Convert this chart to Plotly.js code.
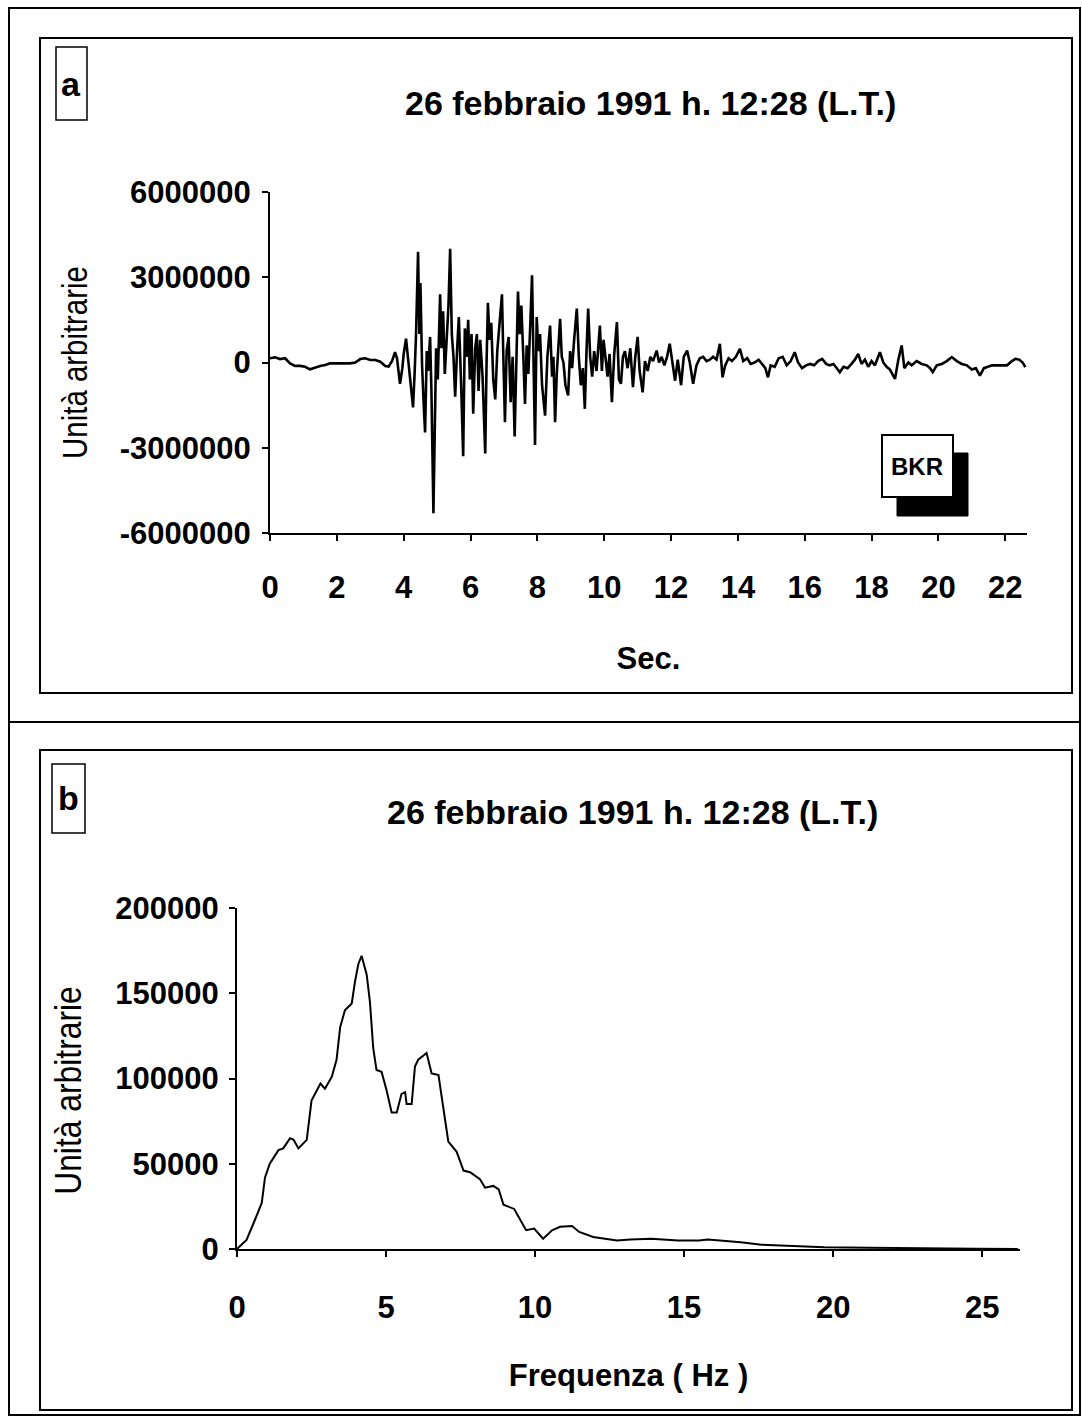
<!DOCTYPE html>
<html>
<head>
<meta charset="utf-8">
<script src="https://cdn.plot.ly/plotly-3.0.1.min.js"></script>
<style>
html,body{margin:0;padding:0;background:#fff;}
#chart{width:1082px;height:1417px;}
</style>
</head>
<body>
<div id="chart"></div>
<script>
// ---------------- DATA ----------------
const titleText = "26 febbraio 1991 h. 12:28 (L.T.)";
const yTitleText = "Unità arbitrarie";
const xTitleA = "Sec.";
const xTitleB = "Frequenza ( Hz )";

// Panel a: seismogram (time in s, amplitude in units of 1e5)
const AMP_UNIT = 1e5;
const waveT = [
0.00,0.15,0.30,0.45,0.60,0.75,0.90,1.05,1.20,1.35,1.50,1.65,1.80,1.95,2.10,2.25,2.40,2.55,2.70,2.85,
3.00,3.15,3.30,3.45,3.55,3.65,3.74,3.80,3.89,3.96,4.00,4.07,4.13,4.20,4.28,4.33,4.37,4.43,4.47,4.50,
4.55,4.60,4.64,4.69,4.73,4.79,4.83,4.89,4.93,4.97,5.02,5.09,5.13,5.18,5.23,5.28,5.34,5.39,5.44,5.49,
5.54,5.60,5.65,5.72,5.78,5.83,5.88,5.93,5.98,6.03,6.08,6.14,6.19,6.24,6.29,6.36,6.44,6.48,6.52,6.57,
6.62,6.68,6.74,6.80,6.86,6.94,6.98,7.03,7.08,7.14,7.20,7.26,7.32,7.37,7.42,7.47,7.52,7.58,7.63,7.68,
7.73,7.79,7.84,7.88,7.93,7.98,8.03,8.08,8.14,8.23,8.30,8.38,8.44,8.48,8.53,8.58,8.63,8.68,8.73,8.78,
8.84,8.92,8.98,9.04,9.10,9.18,9.24,9.30,9.36,9.42,9.47,9.52,9.58,9.64,9.70,9.77,9.87,9.93,9.98,10.04,
10.10,10.16,10.23,10.30,10.38,10.44,10.50,10.56,10.62,10.70,10.78,10.86,10.93,11.00,11.06,11.15,11.22,11.30,11.38,11.46,
11.57,11.64,11.72,11.80,11.88,11.96,12.04,12.12,12.20,12.30,12.38,12.48,12.56,12.66,12.76,12.86,12.96,13.06,13.16,13.26,
13.36,13.46,13.54,13.62,13.72,13.82,13.94,14.06,14.16,14.28,14.38,14.50,14.62,14.74,14.82,14.90,14.98,15.10,15.22,15.34,
15.46,15.58,15.70,15.80,15.92,16.04,16.16,16.28,16.40,16.52,16.64,16.74,16.86,16.96,17.05,17.16,17.28,17.40,17.50,17.60,
17.70,17.80,17.90,18.00,18.10,18.25,18.35,18.45,18.55,18.70,18.80,18.90,18.98,19.10,19.20,19.35,19.50,19.65,19.75,19.83,
19.95,20.10,20.25,20.40,20.55,20.70,20.85,21.00,21.12,21.24,21.36,21.48,21.60,21.75,21.90,22.05,22.20,22.30,22.42,22.52,
22.60];
const waveV = [
1.5,1.8,1.2,1.5,-0.3,-1.2,-1.2,-1.5,-2.4,-1.8,-1.2,-0.9,-0.3,-0.3,-0.3,-0.3,-0.3,0.0,1.2,1.5,
0.9,0.9,0.3,-1.2,-1.4,0.5,3.6,1.5,-7.5,-2.0,3.0,8.4,1.0,-6.0,-15.8,-3.0,10.0,39.0,10.0,28.0,
-1.0,-15.0,-24.6,4.0,-3.0,9.0,-10.0,-53.0,-28.0,5.0,-6.0,24.0,5.0,18.0,-4.0,8.0,20.0,40.0,10.0,2.0,
-12.0,5.0,16.0,-8.0,-33.0,12.0,2.0,15.0,-6.0,10.0,-18.0,5.0,10.0,-10.0,8.0,-5.0,-32.0,0.0,21.0,8.0,
14.0,-6.0,-13.0,4.0,12.0,24.0,3.0,-21.0,4.0,9.0,-14.0,2.0,-26.0,5.0,25.0,10.0,20.0,2.0,-14.6,6.0,
-4.0,14.0,30.7,4.0,-29.0,16.0,4.0,10.0,-8.0,-18.7,2.0,13.0,-5.0,2.0,-21.0,-4.0,6.0,15.4,2.0,0.0,
-8.0,-11.6,4.0,-2.0,8.0,19.0,2.0,-8.0,-2.0,-16.3,4.0,19.0,2.0,-5.0,4.0,-3.0,13.0,-3.0,8.0,2.0,
-5.0,3.0,-14.0,3.0,14.2,-6.0,-7.5,2.0,4.0,-2.0,5.0,-8.7,2.0,9.0,-3.0,-10.5,0.5,-3.0,2.0,0.5,
4.2,0.0,2.0,-1.0,2.0,6.6,0.0,-6.4,1.0,-8.0,2.0,4.2,0.0,-7.5,-1.0,1.5,2.0,0.5,1.0,2.0,
1.0,6.6,-5.2,-1.0,1.5,0.5,2.0,4.8,0.5,1.5,-0.5,0.0,1.0,-1.0,-2.0,-5.2,-1.0,-1.5,1.5,2.0,
-1.0,0.5,3.6,0.0,-2.0,-1.0,-0.5,-1.0,0.5,1.3,-0.5,-1.0,-0.5,-2.0,-3.4,-1.5,-2.0,-0.5,1.0,3.0,
-0.5,1.0,-1.5,0.5,-1.0,3.6,0.0,-1.5,-2.5,-5.8,1.0,6.0,-2.0,0.0,-1.0,0.5,-0.5,-1.0,-2.0,-3.4,
-1.0,-0.5,0.5,1.9,0.5,-0.5,-1.0,-2.5,-2.0,-4.6,-2.0,-1.5,-1.0,-1.0,-1.0,-1.0,0.5,1.3,1.0,0.0,
-1.6];

// Panel b: amplitude spectrum (frequency in Hz, amplitude)
const specF = [0.00,0.32,0.60,0.83,0.94,1.10,1.39,1.55,1.78,1.90,2.06,2.34,2.50,2.80,2.95,3.18,3.34,3.46,3.62,3.85,
3.96,4.07,4.18,4.35,4.46,4.57,4.68,4.85,5.02,5.19,5.36,5.52,5.64,5.69,5.86,5.97,6.08,6.36,6.53,6.76,
6.92,7.09,7.37,7.60,7.82,8.15,8.32,8.60,8.78,8.94,9.30,9.70,9.97,10.27,10.57,10.84,11.24,11.48,11.95,12.30,
12.75,13.20,13.90,14.80,15.50,15.80,16.90,17.60,18.20,18.80,19.70,21.20,22.40,23.50,24.80,26.20];
const specA = [0,5300,17000,27000,42000,50000,58000,59000,65000,64000,59000,64000,87000,97000,94000,101000,111000,130000,140000,144000,
157000,167000,172000,161000,145000,118000,105000,104000,93000,80000,80000,91000,92000,85000,85000,107000,111000,115000,103000,102000,
83000,63000,57000,46000,45000,41000,36000,37000,35000,26000,23500,11000,12000,6000,11000,13000,13500,10000,7000,6000,
5000,5500,6000,5000,5000,5500,4000,2500,2000,1500,1000,800,500,300,100,0];

// Tick labels
const aXTicks = [0,2,4,6,8,10,12,14,16,18,20,22];
const aYTicks = [-6000000,-3000000,0,3000000,6000000];
const aYTickText = ["-6000000","-3000000","0","3000000","6000000"];
const bXTicks = [0,5,10,15,20,25];
const bYTicks = [0,50000,100000,150000,200000];
const bYTickText = ["0","50000","100000","150000","200000"];

// ---------------- LAYOUT ----------------
const W = 1082, H = 1417;
const px = x => x / W;
const py = y => 1 - y / H;
const BOLD = {family: "Liberation Sans, Arial, Helvetica, sans-serif", size: 31, color: "#000", weight: "bold"};
const TITLE = Object.assign({}, BOLD, {size: 34});
const NARROW = {family: "Liberation Sans Narrow, Arial Narrow, Liberation Sans, sans-serif", size: 35, color: "#000"};

const traces = [
  {x: waveT, y: waveV.map(v => v * AMP_UNIT), xaxis: "x", yaxis: "y", type: "scatter", mode: "lines",
   line: {color: "#000", width: 2.6}, hoverinfo: "skip"},
  {x: specF, y: specA, xaxis: "x2", yaxis: "y2", type: "scatter", mode: "lines",
   line: {color: "#000", width: 2}, hoverinfo: "skip"}
];

const axisCommon = {showgrid: false, zeroline: false, showline: true, linecolor: "#000", linewidth: 2,
  ticks: "outside", ticklen: 6, tickwidth: 2, tickcolor: "#000", tickfont: BOLD, fixedrange: true};

const layout = {
  width: W, height: H,
  margin: {l: 0, r: 0, t: 0, b: 0},
  paper_bgcolor: "#fff", plot_bgcolor: "rgba(0,0,0,0)",
  showlegend: false,
  xaxis: Object.assign({}, axisCommon, {domain: [px(270), px(1027)], range: [0, 22.65], anchor: "y",
    tickmode: "array", tickvals: aXTicks, ticklabelstandoff: 20,
    title: {text: xTitleA, font: BOLD, standoff: 43}}),
  yaxis: Object.assign({}, axisCommon, {domain: [py(533), py(192)], range: [-6000000, 6000000], anchor: "x",
    tickmode: "array", tickvals: aYTicks, ticktext: aYTickText, ticklabelstandoff: 5,
    title: {text: yTitleText, font: NARROW, standoff: 22}}),
  xaxis2: Object.assign({}, axisCommon, {domain: [px(237), px(1020)], range: [0, 26.27], anchor: "y2",
    tickmode: "array", tickvals: bXTicks, ticklabelstandoff: 24,
    title: {text: xTitleB, font: BOLD, standoff: 40}}),
  yaxis2: Object.assign({}, axisCommon, {domain: [py(1249), py(908)], range: [0, 200000], anchor: "x2",
    tickmode: "array", tickvals: bYTicks, ticktext: bYTickText, ticklabelstandoff: 4,
    title: {text: yTitleText, font: Object.assign({}, NARROW, {size: 37}), standoff: 22}}),
  shapes: [
    {type: "rect", xref: "paper", yref: "paper", x0: px(9), x1: px(1080), y0: py(8), y1: py(1415), line: {color: "#000", width: 2}},
    {type: "line", xref: "paper", yref: "paper", x0: px(9), x1: px(1080), y0: py(722), y1: py(722), line: {color: "#000", width: 2}},
    {type: "rect", xref: "paper", yref: "paper", x0: px(40), x1: px(1072), y0: py(38), y1: py(693), line: {color: "#000", width: 2}},
    {type: "rect", xref: "paper", yref: "paper", x0: px(40), x1: px(1072), y0: py(750), y1: py(1410), line: {color: "#000", width: 2}},
    {type: "rect", xref: "paper", yref: "paper", x0: px(56), x1: px(87), y0: py(47), y1: py(120), line: {color: "#000", width: 1.5}},
    {type: "rect", xref: "paper", yref: "paper", x0: px(52), x1: px(85), y0: py(764), y1: py(833), line: {color: "#000", width: 1.5}},
    {type: "rect", xref: "paper", yref: "paper", x0: px(897), x1: px(968), y0: py(453), y1: py(516), fillcolor: "#000", line: {color: "#000", width: 1}},
    {type: "rect", xref: "paper", yref: "paper", x0: px(882), x1: px(953), y0: py(435), y1: py(497), fillcolor: "#fff", line: {color: "#000", width: 2}}
  ],
  annotations: [
    {xref: "paper", yref: "paper", x: px(650), y: py(103), text: titleText, showarrow: false, font: TITLE, xanchor: "center", yanchor: "middle"},
    {xref: "paper", yref: "paper", x: px(632), y: py(812), text: titleText, showarrow: false, font: TITLE, xanchor: "center", yanchor: "middle"},
    {xref: "paper", yref: "paper", x: px(71), y: py(84), text: "a", showarrow: false, font: TITLE, xanchor: "center", yanchor: "middle"},
    {xref: "paper", yref: "paper", x: px(68), y: py(798), text: "b", showarrow: false, font: TITLE, xanchor: "center", yanchor: "middle"},
    {xref: "paper", yref: "paper", x: px(917), y: py(466), text: "BKR", showarrow: false,
     font: {family: "Liberation Sans, Arial, sans-serif", size: 24, color: "#000", weight: "bold"}, xanchor: "center", yanchor: "middle"}
  ]
};

Plotly.newPlot("chart", traces, layout, {displayModeBar: false, staticPlot: true}).then(function () {
  // condense the y-axis titles (the original uses a narrow typeface)
  [[".ytitle", 0.84, 0], [".y2title", 0.86, 12]].forEach(function (item) {
    const el = document.querySelector("#chart " + item[0]);
    if (!el) return;
    const x = parseFloat(el.getAttribute("x")), y = parseFloat(el.getAttribute("y"));
    el.setAttribute("transform",
      "translate(0," + item[2] + ") rotate(-90," + x + "," + y + ") translate(" + x + "," + y + ") scale(" + item[1] + ",1) translate(" + (-x) + "," + (-y) + ")");
  });
});
</script>
</body>
</html>
